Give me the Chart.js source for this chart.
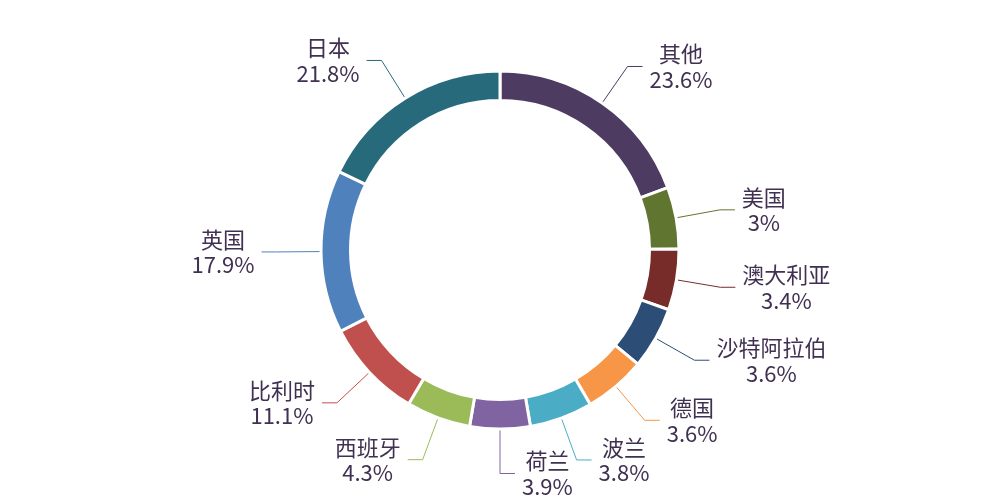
<!DOCTYPE html>
<html>
<head>
<meta charset="utf-8">
<script src="https://cdn.jsdelivr.net/npm/chart.js@4/dist/chart.umd.min.js"></script>
<style>
  html, body { margin: 0; padding: 0; background: #ffffff; }
  #wrap { width: 1000px; height: 500px; }
</style>
</head>
<body>
<div id="wrap"><canvas id="c" width="1000" height="500"></canvas></div>
<script>
// ---- data ----
const countries = ['其他', '美国', '澳大利亚', '沙特阿拉伯', '德国', '波兰', '荷兰', '西班牙', '比利时', '英国', '日本'];
const percentLabels = ['23.6%', '3%', '3.4%', '3.6%', '3.6%', '3.8%', '3.9%', '4.3%', '11.1%', '17.9%', '21.8%'];
// sector sizes as drawn in the reference (degrees of the ring)
const sectorSizes = [69.6, 20.1, 19.8, 20.1, 20.1, 20.5, 19.6, 20.9, 32.3, 53, 64];

// ---- styles ----
const sliceColors = ['#4d3b62', '#5f7530', '#772c2a', '#2c4d75', '#f79646', '#4bacc6', '#8064a2', '#9bbb59', '#c0504d', '#4f81bd', '#276a7c'];
const textColor = '#403152';
const labelFont = '22px "Noto Sans CJK SC", "Noto Sans", sans-serif';

const outsideLabels = {
  id: 'outsideLabels',
  afterDatasetsDraw(chart) {
    const ctx = chart.ctx;
    const meta = chart.getDatasetMeta(0);
    ctx.save();
    ctx.font = labelFont;
    meta.data.forEach((arc, i) => {
      const p = arc.getProps(['x', 'y', 'startAngle', 'endAngle', 'outerRadius'], true);
      const mid = (p.startAngle + p.endAngle) / 2;
      const r0 = p.outerRadius + 1.5;
      const r1 = p.outerRadius + 44.5;
      const sx = p.x + Math.cos(mid) * r0, sy = p.y + Math.sin(mid) * r0;
      const ex = p.x + Math.cos(mid) * r1, ey = p.y + Math.sin(mid) * r1;
      const right = (ex - p.x) > -2;
      const hx = ex + (right ? 15 : -15);
      ctx.strokeStyle = sliceColors[i];
      ctx.lineWidth = 1;
      ctx.beginPath();
      ctx.moveTo(sx, sy);
      ctx.lineTo(ex, ey);
      ctx.lineTo(hx, ey);
      ctx.stroke();

      const l1 = countries[i], l2 = percentLabels[i];
      const w = Math.max(ctx.measureText(l1).width, ctx.measureText(l2).width);
      const cxText = right ? hx + 7 + w / 2 : hx - 7 - w / 2;
      ctx.fillStyle = textColor;
      ctx.textAlign = 'center';
      ctx.textBaseline = 'middle';
      ctx.fillText(l1, cxText, ey - 12.5);
      ctx.fillText(l2, cxText, ey + 13);
    });
    ctx.restore();
  }
};

new Chart(document.getElementById('c'), {
  type: 'doughnut',
  data: {
    labels: countries,
    datasets: [{
      data: sectorSizes,
      backgroundColor: sliceColors,
      borderColor: '#ffffff',
      borderWidth: 3,
      hoverOffset: 0,
      offset: 0
    }]
  },
  options: {
    responsive: false,
    animation: false,
    cutout: 149.5,
    rotation: 0,
    circumference: 360,
    layout: { padding: { top: 69.5, bottom: 69.5, left: 0, right: 0 } },
    plugins: {
      legend: { display: false },
      tooltip: { enabled: false }
    },
    events: []
  },
  plugins: [outsideLabels]
});
</script>
</body>
</html>
